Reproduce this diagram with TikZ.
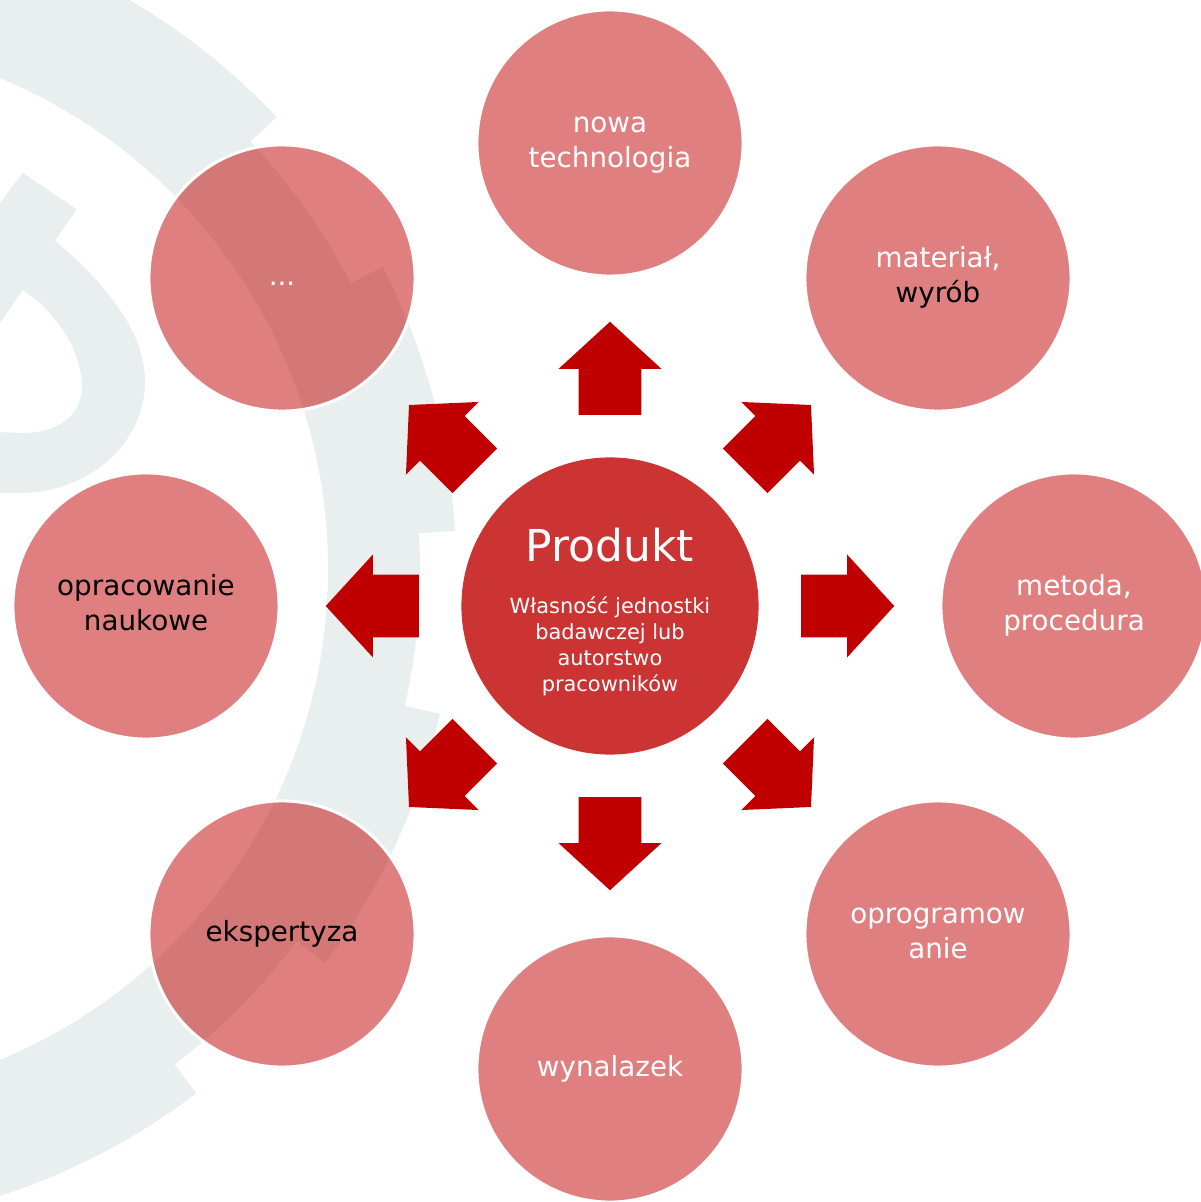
\documentclass[tikz,border=0pt]{standalone}
\usepackage{fontspec}
\setmainfont{DejaVu Sans}
\usetikzlibrary{shapes.arrows}
\definecolor{gearGray}{HTML}{E9EFEF}
\definecolor{bubbleRed}{HTML}{C00000}
\definecolor{hubRed}{HTML}{CC3333}
\definecolor{arrowRed}{HTML}{C00000}
\tikzset{
	gear/.style={fill=gearGray},
	bubble/.style={circle, fill=bubbleRed, fill opacity=0.5, text opacity=1, draw=white, line width=0.03cm, minimum size=2.66cm, inner sep=0, align=center, text=white, font=\fontsize{7.9}{10}\selectfont},
	hub/.style={circle, fill=hubRed, minimum size=2.97cm, inner sep=0},
	blockarrow/.style={single arrow, fill=arrowRed, inner xsep=0, inner ysep=0.3075cm, minimum height=0.93cm, single arrow head extend=0.2cm, single arrow tip angle=95, single arrow head indent=0, anchor=tail}
}
\begin{document}
\begin{tikzpicture}[x=0.01cm, y=0.01cm]
	% Background gear, bubbles and arrows:
	\useasboundingbox (0,0) rectangle (1201,1202);
	\clip (0,0) rectangle (1201,1202);
	\fill[gear, even odd rule, shift={(-203,633)}] (0,0) circle[radius=623] (0,0) circle[radius=531];
	\fill[gear, shift={(-203,633)}] (-76.7:620) arc[start angle=-76.7, end angle=-52.7, radius=620] -- (-52.7:659) arc[start angle=-52.7, end angle=-76.7, radius=659] -- cycle
		(-36.7:620) arc[start angle=-36.7, end angle=-12.7, radius=620] -- (-12.7:659) arc[start angle=-12.7, end angle=-36.7, radius=659] -- cycle
		(3.3:620) arc[start angle=3.3, end angle=27.3, radius=620] -- (27.3:659) arc[start angle=27.3, end angle=3.3, radius=659] -- cycle
		(43.3:620) arc[start angle=43.3, end angle=67.3, radius=620] -- (67.3:659) arc[start angle=67.3, end angle=43.3, radius=659] -- cycle;
	\fill[gear, even odd rule] (-5,992.3) -- (22.7,1029.3) -- (76.7,992.7) -- (55,961.3) -- (76.7,942) .. controls (115,905) and (145,865) .. (145,820) .. controls (145,760) and (90,709) .. (20,709) -- (-5,709) -- cycle
		(-5,871.7) -- (22.7,912) -- (40,899) .. controls (65,875) and (82,845) .. (82,815) .. controls (82,785) and (55,769) .. (23,769) -- (-5,770) -- cycle;
	\node[bubble] (B1) at (610,1059) {\strut nowa\\\strut technologia};
	\node[bubble] (B2) at (938,924) {\strut materiał,\\\strut\textcolor{black}{wyrób}};
	\node[bubble] (B3) at (1074,596) {\strut metoda,\\\strut procedura};
	\node[bubble] (B4) at (938,268) {\strut oprogramow\\\strut anie};
	\node[bubble] (B5) at (610,133) {\strut wynalazek};
	\node[bubble, text=black] (B6) at (282,268) {\strut ekspertyza};
	\node[bubble, text=black] (B7) at (146,596) {\strut opracowanie\\\strut naukowe};
	\node[bubble] (B8) at (282,924) {\strut ...};
	\node[blockarrow, rotate=90] (A1) at (610,786.5) {};
	\node[blockarrow, rotate=45] (A2) at (744.7,730.7) {};
	\node[blockarrow, rotate=0] (A3) at (800.5,596) {};
	\node[blockarrow, rotate=-45] (A4) at (744.7,461.3) {};
	\node[blockarrow, rotate=-90] (A5) at (610,405.5) {};
	\node[blockarrow, rotate=-135] (A6) at (475.3,461.3) {};
	\node[blockarrow, rotate=180] (A7) at (419.5,596) {};
	\node[blockarrow, rotate=135] (A8) at (475.3,730.7) {};
	\node[hub] (Hub) at (610,596) {};
	\node[text=white, font=\fontsize{12.5}{15}\selectfont, anchor=base] (Title) at (610,640) {Produkt};
	\node[text=white, align=center, font=\fontsize{5.95}{7.4}\selectfont] (Owner) at (610,556) {Własność jednostki\\badawczej lub\\autorstwo\\pracowników};
\end{tikzpicture}
\end{document}
